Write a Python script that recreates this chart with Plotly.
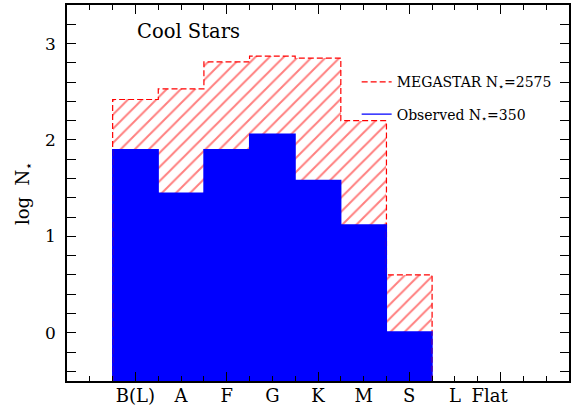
import plotly.graph_objects as go

# ---- data ----
spectral_types = ["B(L)", "A", "F", "G", "K", "M", "S"]
megastar_logN = [2.42, 2.53, 2.81, 2.87, 2.85, 2.20, 0.60]
observed_logN = [1.90, 1.45, 1.90, 2.06, 1.58, 1.12, 0.01]
tick_labels = ["B(L)", "A", "F", "G", "K", "M", "S", "L", "Flat"]
tick_label_pos = [1, 2, 3, 4, 5, 6, 7, 8, 8.76]

RED = "#ff0000"
BLUE = "#0000ff"
FONT = "DejaVu Serif"
AXMIN = -0.5

xpos = list(range(1, len(spectral_types) + 1))


def step_outline(values):
    xs = [x - 0.5 for x in xpos] + [xpos[-1] + 0.5]
    ys = list(values) + [values[-1]]
    return [xs[0]] + xs + [xs[-1]], [AXMIN] + ys + [AXMIN]


fig = go.Figure()

# hatched MEGASTAR histogram
fig.add_trace(go.Bar(
    x=xpos, y=[v - AXMIN for v in megastar_logN], base=AXMIN, width=1.0,
    marker=dict(color="rgba(255,255,255,0)", line=dict(width=0),
                pattern=dict(shape="/", fgcolor=RED, bgcolor="rgba(255,255,255,0)",
                             size=10, solidity=0.2, fillmode="overlay")),
    showlegend=False, hoverinfo="skip",
))
mx, my = step_outline(megastar_logN)
fig.add_trace(go.Scatter(
    x=mx, y=my, mode="lines", line=dict(color=RED, width=1.2, dash="6px,3px", shape="hv"),
    name="MEGASTAR N<sub>⋆</sub>=2575", legendgroup="a",
))

# observed histogram (solid blue)
fig.add_trace(go.Bar(
    x=xpos, y=[v - AXMIN for v in observed_logN], base=AXMIN, width=1.0,
    marker=dict(color=BLUE, line=dict(width=0)),
    showlegend=False, hoverinfo="skip",
))
ox, oy = step_outline(observed_logN)
fig.add_trace(go.Scatter(
    x=ox, y=oy, mode="lines", line=dict(color=BLUE, width=1.2, shape="hv"),
    name="Observed N<sub>⋆</sub>=350", legendgroup="b", xaxis="x2",
))

fig.add_annotation(x=1.0, y=3.12, xref="x", yref="y", text="Cool Stars",
                   showarrow=False, xanchor="left", yanchor="middle",
                   font=dict(family=FONT, size=19.5, color="black"))
fig.add_annotation(x=-0.0857, y=0.5, xref="paper", yref="paper", xanchor="center",
                   yanchor="middle", text="log  N<sub>⋆</sub>", textangle=-90,
                   showarrow=False, font=dict(family=FONT, size=18, color="black"))

fig.update_layout(
    width=574, height=411,
    margin=dict(l=67, r=5, t=5, b=30, autoexpand=False),
    plot_bgcolor="white", paper_bgcolor="white",
    barmode="overlay", bargap=0,
    font=dict(family=FONT, color="black"),
    showlegend=True,
    legend=dict(x=0.577, y=0.837, xanchor="left", yanchor="top",
                font=dict(family=FONT, size=14, color="black"),
                bgcolor="rgba(0,0,0,0)", tracegroupgap=11, traceorder="grouped"),
    xaxis=dict(range=[-0.5, 10.5], tickvals=[1, 3, 5, 7, 9], showticklabels=False,
               ticks="inside", ticklen=9, tickwidth=1, tickcolor="black",
               minor=dict(dtick=0.5, tick0=0, ticks="inside", ticklen=5, tickcolor="black"),
               showline=True, linecolor="black", linewidth=1.5, mirror="allticks",
               showgrid=False, zeroline=False, fixedrange=True, automargin=False),
    xaxis2=dict(range=[-0.5, 10.5], overlaying="x", side="bottom",
                tickvals=tick_label_pos, ticktext=tick_labels, ticks="",
                showline=False, showgrid=False, zeroline=False, automargin=False,
                tickfont=dict(family=FONT, size=18, color="black"), ticklabelstandoff=2),
    yaxis=dict(range=[-0.5, 3.4], tickvals=[0, 1, 2, 3],
               ticks="inside", ticklen=9, tickwidth=1, tickcolor="black",
               minor=dict(dtick=0.2, tick0=0, ticks="inside", ticklen=5, tickcolor="black"),
               showline=True, linecolor="black", linewidth=1.5, mirror="allticks",
               showgrid=False, zeroline=False, automargin=False,
               tickfont=dict(family=FONT, size=17, color="black"), ticklabelstandoff=6),
)

fig.write_html("out.html", config={"displayModeBar": False},
               post_script="document.body.style.margin='0px';")
